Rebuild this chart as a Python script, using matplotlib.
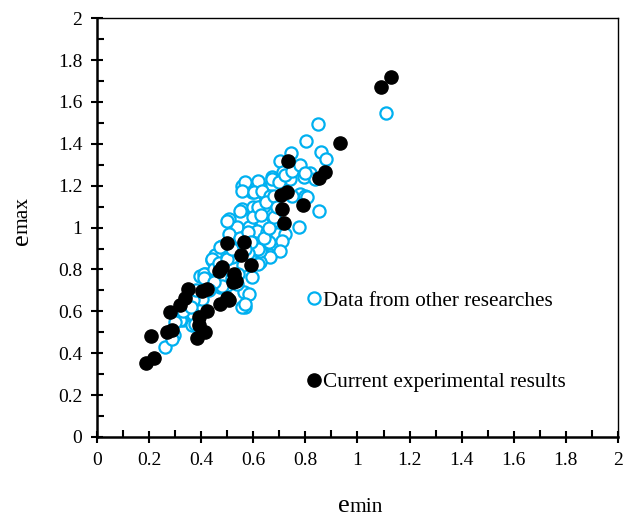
import matplotlib
matplotlib.use('Agg')
import matplotlib.pyplot as plt
from matplotlib.ticker import MultipleLocator

# void ratios collected from other studies
e_min_other = [0.85, 0.804, 0.746, 0.858, 0.881, 0.701, 0.714, 0.673, 0.627, 0.595,
               0.557, 0.794, 0.817, 0.835, 0.708, 0.781, 0.80, 0.64, 0.569, 0.62,
               0.672, 0.557, 0.602, 0.633, 0.665, 0.742, 0.748, 0.557, 0.60, 0.64,
               0.62, 0.653, 0.672, 0.633, 0.505, 0.537, 0.582, 0.614, 0.653, 0.691,
               0.723, 0.479, 0.454, 0.44, 0.614, 0.659, 0.633, 0.665, 0.71, 0.704,
               0.518, 0.44, 0.665, 0.627, 0.595, 0.563, 0.567, 0.582, 0.415, 0.428,
               0.473, 0.499, 0.537, 0.383, 0.396, 0.41, 0.428, 0.403, 0.358, 0.332,
               0.364, 0.262, 0.294, 0.37, 0.323, 0.854, 1.108, 0.558, 0.51, 0.55,
               0.774, 0.806, 0.64, 0.499, 0.505, 0.473, 0.627, 0.62, 0.46, 0.48,
               0.569, 0.37, 0.319, 0.377, 0.287, 0.30, 0.33, 0.36, 0.38, 0.41,
               0.45, 0.47, 0.50, 0.52, 0.55, 0.58, 0.60, 0.62, 0.65, 0.68,
               0.70, 0.72, 0.75, 0.78, 0.80, 0.62, 0.64, 0.66, 0.68, 0.58,
               0.56, 0.54, 0.52, 0.48, 0.45, 0.43, 0.59, 0.57, 0.63, 0.69]
e_max_other = [1.495, 1.414, 1.356, 1.359, 1.327, 1.319, 1.264, 1.24, 1.20, 1.168,
               1.20, 1.24, 1.259, 1.232, 1.216, 1.16, 1.152, 1.16, 1.216, 1.224,
               1.232, 1.176, 1.168, 1.176, 1.152, 1.232, 1.152, 1.089, 1.097, 1.112,
               1.073, 1.073, 1.025, 1.025, 1.041, 1.002, 1.002, 0.986, 0.978, 0.97,
               0.97, 0.914, 0.867, 0.843, 0.914, 0.93, 0.867, 0.867, 0.938, 0.89,
               0.859, 0.85, 0.859, 0.835, 0.763, 0.692, 0.621, 0.684, 0.78, 0.748,
               0.716, 0.724, 0.732, 0.66, 0.771, 0.778, 0.724, 0.66, 0.644, 0.557,
               0.533, 0.43, 0.486, 0.589, 0.567, 1.081, 1.548, 0.62, 0.89, 1.081,
               1.002, 1.144, 1.105, 1.033, 0.97, 0.906, 0.89, 0.827, 0.732, 0.76,
               0.636, 0.652, 0.557, 0.541, 0.47, 0.55, 0.60, 0.62, 0.70, 0.76,
               0.80, 0.83, 0.85, 0.90, 0.95, 0.98, 1.05, 1.10, 1.12, 1.15,
               1.22, 1.25, 1.27, 1.30, 1.26, 0.90, 0.95, 1.00, 1.05, 0.88,
               0.82, 0.78, 0.76, 0.72, 0.74, 0.70, 0.93, 0.90, 1.06, 1.10]

# void ratios from the present test program
e_min_cur = [0.932, 0.732, 0.874, 0.854, 0.73, 0.706, 0.791, 0.709, 0.719, 0.501,
             0.563, 0.554, 0.591, 0.479, 0.47, 0.527, 0.535, 0.524, 0.349, 0.403,
             0.422, 0.338, 0.499, 0.505, 0.473, 0.317, 0.281, 0.422, 0.39, 0.287,
             0.268, 0.415, 0.383, 0.208, 0.219, 0.187, 0.393, 1.09, 1.13]
e_max_cur = [1.406, 1.319, 1.267, 1.235, 1.168, 1.156, 1.108, 1.089, 1.021, 0.927,
             0.93, 0.871, 0.822, 0.814, 0.792, 0.78, 0.743, 0.742, 0.708, 0.697,
             0.705, 0.665, 0.665, 0.652, 0.636, 0.632, 0.597, 0.60, 0.573, 0.51,
             0.502, 0.502, 0.475, 0.481, 0.375, 0.351, 0.533, 1.67, 1.72]

plt.rcParams['font.family'] = 'Liberation Serif'

W, H = 631, 519
fig = plt.figure(figsize=(W / 100, H / 100), dpi=100)
ax = fig.add_axes([0.1537, 0.158, 0.8257, 0.807])

ax.plot(e_min_other, e_max_other, 'o', ms=8.8, mfc='white', mec='#00B0F0', mew=1.6,
        label='Data from other researches')
ax.plot(e_min_cur, e_max_cur, 'o', ms=9.5, color='black',
        label='Current experimental results')

ax.set_xlim(0, 2)
ax.set_ylim(0, 2)
ax.xaxis.set_major_locator(MultipleLocator(0.2))
ax.yaxis.set_major_locator(MultipleLocator(0.2))
ax.xaxis.set_minor_locator(MultipleLocator(0.1))
ax.yaxis.set_minor_locator(MultipleLocator(0.1))
ax.xaxis.set_major_formatter(lambda v, p: f'{v:g}')
ax.yaxis.set_major_formatter(lambda v, p: f'{v:g}')
ax.tick_params(which='major', direction='inout', length=9, width=1.5, labelsize=14, pad=6)
ax.tick_params(which='minor', direction='in', length=5, width=1.5)
ax.tick_params(axis='x', which='both', top=False)
ax.tick_params(axis='y', which='both', right=False)
for side in ['left', 'bottom']:
    ax.spines[side].set_linewidth(1.8)
for side in ['top', 'right']:
    ax.spines[side].set_linewidth(1.0)

# axis titles: a large "e" followed by a smaller subscript-like word
fig.text(338 / W, 1 - 512 / H, 'e', fontsize=19, ha='left', va='baseline')
fig.text(349 / W, 1 - 512 / H, 'min', fontsize=15.5, ha='left', va='baseline')
fig.text(28 / W, 1 - 245 / H, 'e', fontsize=19, rotation=90, rotation_mode='anchor',
         ha='left', va='baseline')
fig.text(28 / W, 1 - 234 / H, 'max', fontsize=15.5, rotation=90, rotation_mode='anchor',
         ha='left', va='baseline')

ax.legend(loc='center left', bbox_to_anchor=(0.388, 0.228), frameon=False,
          fontsize=15.3, labelspacing=2.9, handlelength=0.6, handletextpad=0.12,
          borderaxespad=0)

fig.savefig('out.png', dpi=100)
